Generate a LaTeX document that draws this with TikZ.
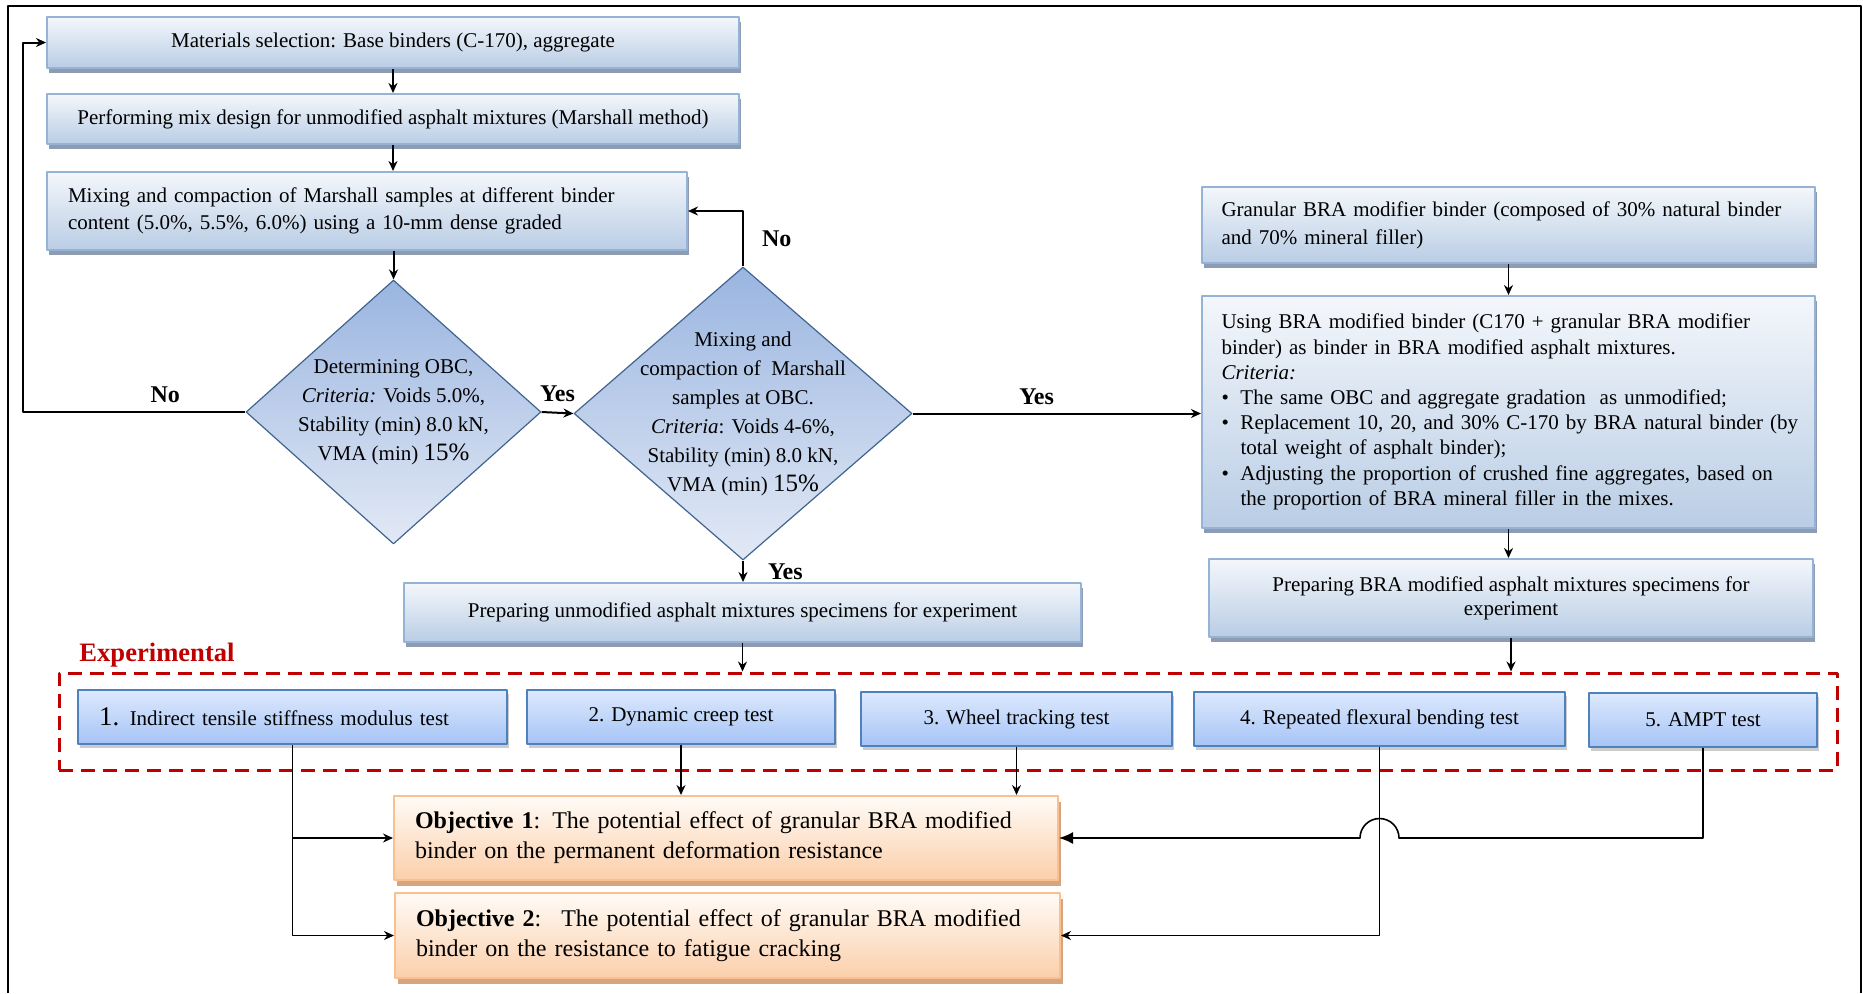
\documentclass[tikz,border=0pt]{standalone}
\usepackage{fontspec}
\setmainfont{Liberation Serif}
\usetikzlibrary{shapes.geometric,shadows,arrows.meta}

\definecolor{boxtop}{HTML}{F4F7FB}
\definecolor{boxbot}{HTML}{B9CDE5}
\definecolor{boxline}{HTML}{95B3D7}
\definecolor{boxshade}{HTML}{8E9BB0}
\definecolor{dectop}{HTML}{9AB5E0}
\definecolor{decbot}{HTML}{E2E9F5}
\definecolor{decline}{HTML}{41648F}
\definecolor{testtop}{HTML}{DDE9FD}
\definecolor{testbot}{HTML}{A6C4F6}
\definecolor{testline}{HTML}{4F81BD}
\definecolor{objtop}{HTML}{FFFBF7}
\definecolor{objbot}{HTML}{FBCFAA}
\definecolor{objline}{HTML}{FAC090}
\definecolor{objshade}{HTML}{D6A47E}
\definecolor{expred}{HTML}{C00000}

\newcommand{\bul}{\makebox[9.5pt][l]{\textbullet}}
\newcommand{\hang}{\hspace*{9.5pt}}

\tikzset{
  flowbox/.style={draw=boxline,line width=1pt,top color=boxtop,bottom color=boxbot,
    drop shadow={shadow xshift=1pt,shadow yshift=-2.5pt,fill=boxshade,opacity=1},
    inner sep=0pt,align=center,font=\fontsize{10.5}{13.5}\selectfont},
  decision/.style={diamond,draw=decline,line width=0.6pt,top color=dectop,bottom color=decbot,inner sep=0pt},
  dectext/.style={align=center,font=\fontsize{10.5}{14.5}\selectfont},
  testbox/.style={draw=testline,line width=0.9pt,top color=testtop,bottom color=testbot,
    drop shadow={shadow xshift=1pt,shadow yshift=-2pt,fill=black,opacity=.2},
    inner sep=0pt,align=center,minimum height=27pt,font=\fontsize{10.5}{13}\selectfont},
  objbox/.style={draw=objline,line width=1pt,top color=objtop,bottom color=objbot,
    drop shadow={shadow xshift=1.5pt,shadow yshift=-3pt,fill=objshade,opacity=1},
    inner sep=0pt,align=left,font=\fontsize{12}{15}\selectfont},
  answer/.style={font=\fontsize{12}{14}\selectfont\bfseries,inner sep=1pt},
}

\begin{document}
\begin{tikzpicture}[x=0.5pt,y=-0.5pt,>={Stealth[length=5pt,width=4.5pt]},line join=round]
\useasboundingbox (0,0) rectangle (1863,993);
\draw[line width=1pt] (8,993) -- (8,6) -- (1861,6) -- (1861,993);

% unmodified mix design
\node[flowbox,minimum width=346pt,minimum height=25.5pt] (matsel) at (393,42.5) {Materials selection: Base binders (C-170), aggregate};
\node[flowbox,minimum width=346pt,minimum height=25pt] (mixdes) at (393,119) {Performing mix design for unmodified asphalt mixtures (Marshall method)};
\node[flowbox,minimum width=320pt,minimum height=39pt,text width=299pt,align=left] (mixbin) at (367,211) {Mixing and compaction of Marshall samples at different binder\\content (5.0\%, 5.5\%, 6.0\%) using a 10-mm dense graded};
\node[decision,minimum width=147.5pt,minimum height=132pt,
  label={[dectext]center:{Determining OBC,\\\textit{Criteria:} Voids 5.0\%,\\Stability (min) 8.0 kN,\\VMA (min) {\fontsize{12.5}{14.5}\selectfont 15\%}}}] (obc) at (393.5,412) {};
\node[decision,minimum width=169pt,minimum height=146.5pt,
  label={[dectext]center:{Mixing and\\compaction of~ Marshall\\samples at OBC.\\\textit{Criteria}: Voids 4-6\%,\\Stability (min) 8.0 kN,\\VMA (min) {\fontsize{12.5}{14.5}\selectfont 15\%}}}] (mixobc) at (743,413.5) {};
\node[flowbox,minimum width=338.5pt,minimum height=29.5pt] (prepun) at (742.5,612.5) {Preparing unmodified asphalt mixtures specimens for experiment};

% BRA modified
\node[flowbox,minimum width=306.5pt,minimum height=38pt,text width=287pt,align=left,font=\fontsize{10.5}{14}\selectfont] (granbra) at (1508.5,225) {Granular BRA modifier binder (composed of 30\% natural binder\\and 70\% mineral filler)};
\node[flowbox,minimum width=306.5pt,minimum height=116pt,text width=287pt,align=left,font=\fontsize{10.5}{12.6}\selectfont] (usebra) at (1508.5,412) {Using BRA modified binder (C170 + granular BRA modifier\\binder) as binder in BRA modified asphalt mixtures.\\\textit{Criteria:}\\\bul The same OBC and aggregate gradation~ as unmodified;\\\mbox{\bul Replacement 10, 20, and 30\% C-170 by BRA natural binder (by}\\\hang total weight of asphalt binder);\\\bul Adjusting the proportion of crushed fine aggregates, based on\\\hang the proportion of BRA mineral filler in the mixes.};
\node[flowbox,minimum width=302pt,minimum height=39pt,font=\fontsize{10.5}{12}\selectfont] (prepbra) at (1511,598) {Preparing BRA modified asphalt mixtures specimens for\\experiment};

% experimental
\node[draw=expred,dash pattern=on 7pt off 4pt,line width=1.5pt,minimum width=889pt,minimum height=48.5pt] (expbox) at (948,721.5) {};
\node[font=\fontsize{13.3}{15}\selectfont\bfseries,text=expred,inner sep=0pt] (explabel) at (157,655) {Experimental};
\node[testbox,minimum width=214.5pt,text width=193.5pt,align=left] (itsm) at (292.5,717) {{\fontsize{13.5}{13.5}\selectfont 1.} Indirect tensile stiffness modulus test};
\node[testbox,minimum width=154pt] (creep) at (681,717) {2. Dynamic creep test};
\node[testbox,minimum width=155.5pt] (wheel) at (1016.5,719) {3. Wheel tracking test};
\node[testbox,minimum width=185.5pt] (flex) at (1379.5,719) {4. Repeated flexural bending test};
\node[testbox,minimum width=114pt] (ampt) at (1703,720) {5. AMPT test};

% objectives
\node[objbox,minimum width=332pt,minimum height=42pt,text width=311pt] (obj1) at (726,838) {\textbf{Objective 1}: The potential effect of granular BRA modified\\binder on the permanent deformation resistance};
\node[objbox,minimum width=332.5pt,minimum height=42.5pt,text width=311.5pt] (obj2) at (727.5,935.5) {\textbf{Objective 2}:~ The potential effect of granular BRA modified\\binder on the resistance to fatigue cracking};

% connectors
\draw[->,line width=1pt] (matsel) -- (mixdes);
\draw[->,line width=1pt] (mixdes.south) -- (mixdes.south |- mixbin.north);
\draw[->,line width=1pt] (mixbin.south -| obc.north) -- (obc.north);
\coordinate (lft) at (23,0);
\draw[->,line width=1pt] (obc.west) -- node[answer,pos=.36,above=3pt]{No} (obc.west -| lft) |- (matsel.west);
\draw[->,line width=1pt] (obc.east) -- node[answer,above=4pt]{Yes} (mixobc.west);
\draw[->,line width=1pt] (mixobc.north) |- node[answer,pos=.25,right=8pt]{No} (mixbin.east);
\draw[->,line width=1pt] (mixobc.south) -- node[answer,right=11pt]{Yes} (mixobc.south |- prepun.north);
\draw[->,line width=1pt] (mixobc.east) -- node[answer,pos=.43,above=3pt]{Yes} (mixobc.east -| usebra.west);
\draw[->,line width=0.8pt] (granbra) -- (usebra);
\draw[->,line width=0.8pt] (usebra.south) -- (usebra.south |- prepbra.north);
\draw[->,line width=0.8pt] (prepun.south) -- (prepun.south |- expbox.north);
\draw[->,line width=0.8pt] (prepbra.south) -- (prepbra.south |- expbox.north);

\draw[->,line width=0.8pt] (itsm.south) |- (obj1.west);
\draw[->,line width=0.8pt] (itsm.south) |- (obj2.west);
\draw[->,line width=0.8pt] (creep.south) -- (creep.south |- obj1.north);
\draw[->,line width=0.8pt] (wheel.south) -- (wheel.south |- obj1.north);
\draw[->,line width=0.8pt] (flex.south) |- (obj2.east);
\coordinate (hop) at (flex.south |- obj1.east);
\draw[-{Latex[length=7pt,width=6pt]},line width=0.8pt] (ampt.south) |- ([xshift=9.75pt]hop) arc[start angle=0,end angle=180,radius=9.75pt] -- (obj1.east);
\end{tikzpicture}
\end{document}
